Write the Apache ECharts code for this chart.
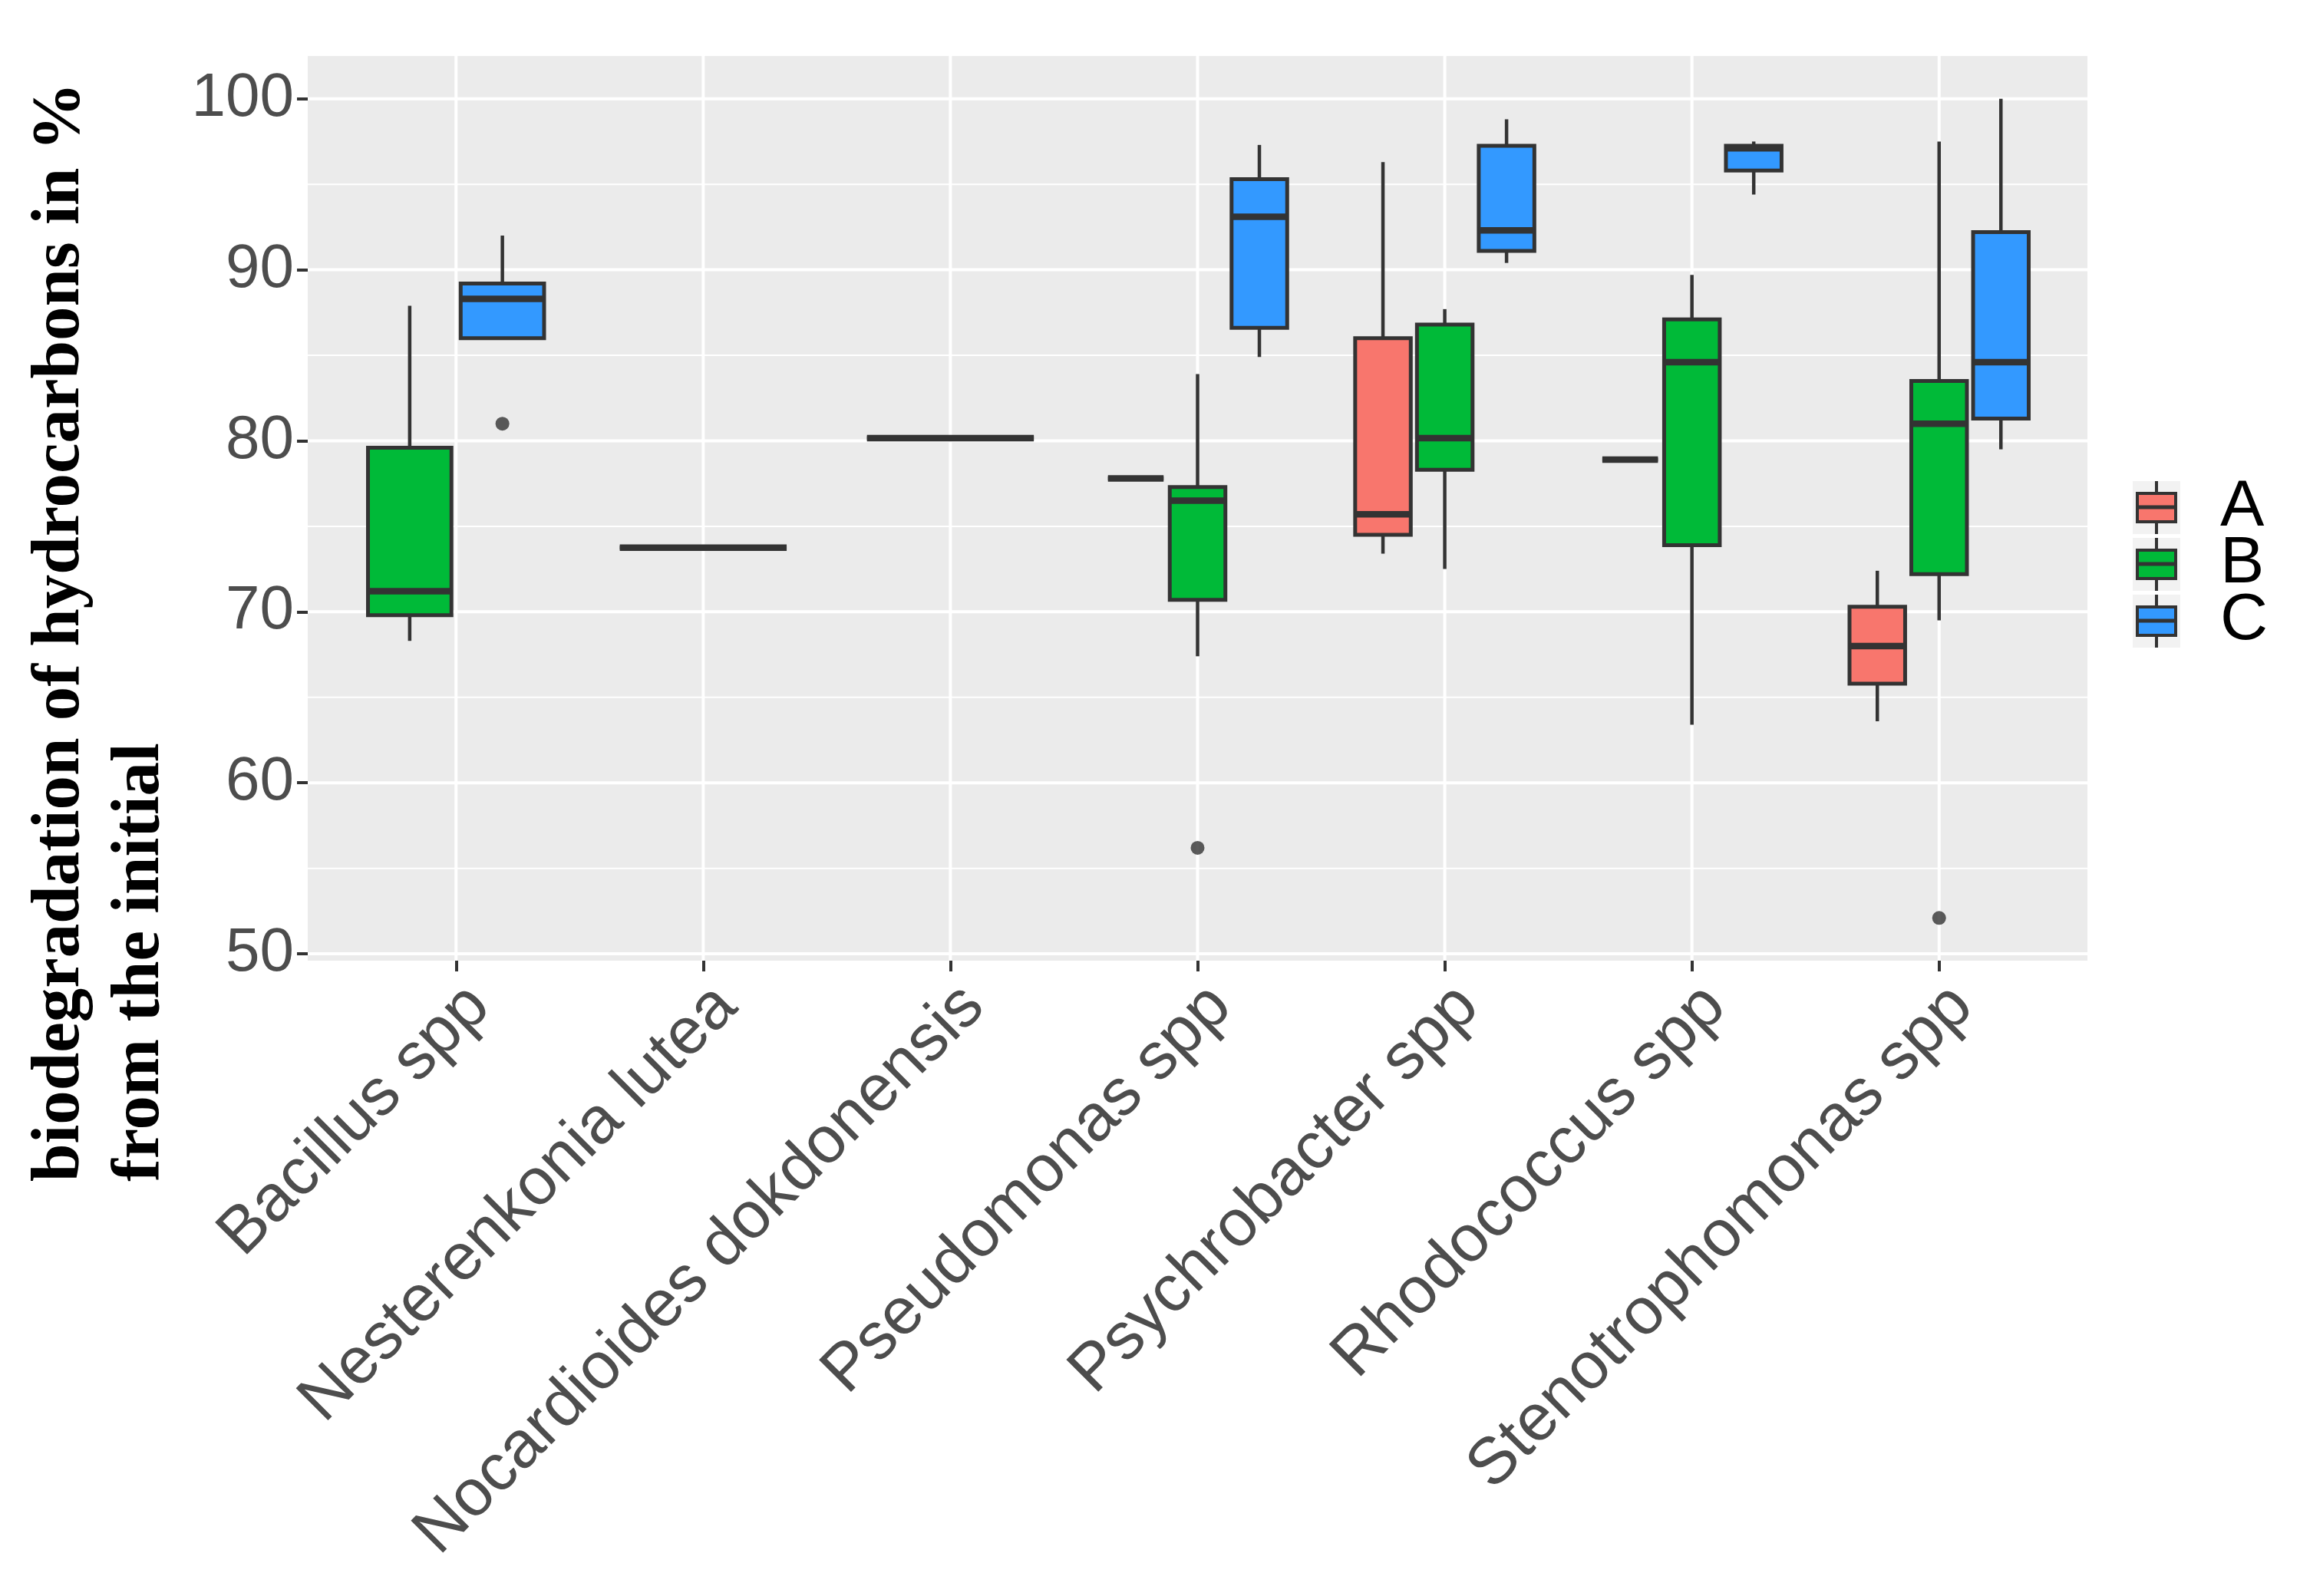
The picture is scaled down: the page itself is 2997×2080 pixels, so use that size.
<!DOCTYPE html>
<html><head><meta charset="utf-8">
<script src="https://cdn.jsdelivr.net/npm/echarts@6/dist/echarts.min.js"></script>
<style>html,body{margin:0;padding:0;background:#fff}#c{width:2997px;height:2080px}</style>
</head><body><div id="c"></div>
<script>
// ---------------- data ----------------
const categories = ['Bacillus spp', 'Nesterenkonia lutea', 'Nocardioides dokdonensis', 'Pseudomonas spp', 'Psychrobacter spp', 'Rhodococcus spp', 'Stenotrophomonas spp'];
const groupNames = ['A', 'B', 'C'];
// per category: [lower whisker, Q1, median, Q3, upper whisker]; null = group absent
const statsA = [null, [73.75, 73.75, 73.75, 73.75, 73.75], [80.15, 80.15, 80.15, 80.15, 80.15], [77.8, 77.8, 77.8, 77.8, 77.8], [73.4, 74.5, 75.7, 86.0, 96.3], [78.9, 78.9, 78.9, 78.9, 78.9], [63.6, 65.8, 68.0, 70.3, 72.4]];
const statsB = [[68.3, 69.8, 71.2, 79.6, 87.9], null, null, [67.4, 70.7, 76.5, 77.3, 83.9], [72.5, 78.3, 80.15, 86.8, 87.7], [63.4, 73.9, 84.6, 87.1, 89.7], [69.5, 72.2, 81.0, 83.5, 97.5]];
const statsC = [[86.0, 86.0, 88.3, 89.2, 92.0], null, null, [84.9, 86.6, 93.1, 95.3, 97.3], [90.4, 91.1, 92.3, 97.25, 98.8], [94.4, 95.8, 97.1, 97.25, 97.5], [79.5, 81.3, 84.6, 92.2, 100.0]];
// outliers: [category index, value]
const outliersA = [];
const outliersB = [[3, 56.2], [6, 52.1]];
const outliersC = [[0, 81.0]];
const yTicks = [50, 60, 70, 80, 90, 100];
const yMinorTicks = [55, 65, 75, 85, 95];
const yTitle = 'biodegradation of hydrocarbons in %\nfrom the initial';

// ---------------- styling / layout ----------------
const groupColors = ['#F8766D', '#00BA38', '#3399FF'];
const allStats = [statsA, statsB, statsC];
const allOutliers = [outliersA, outliersB, outliersC];
const xPositions = categories.map((c, i) => i + 1);
const dodgeWidth = 0.75, dodgePad = 0.1;
function dodge(ci, g) {
  const present = [0, 1, 2].filter(k => allStats[k][ci]);
  const n = present.length, k = present.indexOf(g);
  const slot = dodgeWidth / n;
  return { center: ci + 1 - dodgeWidth / 2 + slot * (k + 0.5), width: slot * (1 - dodgePad) };
}
const INK = '#333333';

function renderBox(params, api) {
  const x = api.value(0), w = api.value(6);
  const low = api.coord([x, api.value(1)]);
  const q1 = api.coord([x, api.value(2)]);
  const med = api.coord([x, api.value(3)]);
  const q3 = api.coord([x, api.value(4)]);
  const high = api.coord([x, api.value(5)]);
  const half = api.size([w, 0])[0] / 2;
  const color = api.visual('color');
  return { type: 'group', children: [
    { type: 'line', shape: { x1: low[0], y1: low[1], x2: q1[0], y2: q1[1] }, style: { stroke: INK, lineWidth: 4.5 } },
    { type: 'line', shape: { x1: q3[0], y1: q3[1], x2: high[0], y2: high[1] }, style: { stroke: INK, lineWidth: 4.5 } },
    { type: 'rect', shape: { x: q3[0] - half, y: q3[1], width: 2 * half, height: q1[1] - q3[1] }, style: { fill: color, stroke: INK, lineWidth: 5 } },
    { type: 'line', shape: { x1: med[0] - half, y1: med[1], x2: med[0] + half, y2: med[1] }, style: { stroke: INK, lineWidth: 8.5 } }
  ] };
}

function renderGridLine(params, api) {
  const cs = params.coordSys;
  const p = api.coord([api.value(0), api.value(1)]);
  const lw = api.value(3) ? 4 : 2;
  if (api.value(2) === 0) {
    return { type: 'line', shape: { x1: cs.x, y1: p[1], x2: cs.x + cs.width, y2: p[1] }, style: { stroke: '#FFFFFF', lineWidth: lw } };
  }
  return { type: 'line', shape: { x1: p[0], y1: cs.y, x2: p[0], y2: cs.y + cs.height }, style: { stroke: '#FFFFFF', lineWidth: lw } };
}

const gridData = []
  .concat(yMinorTicks.map(v => [1, v, 0, 0]))
  .concat(yTicks.map(v => [1, v, 0, 1]))
  .concat(xPositions.map(p => [p, 75, 1, 1]));

const series = [{
  type: 'custom', name: 'grid', silent: true, z: 1,
  renderItem: renderGridLine, encode: { x: 0, y: 1 }, data: gridData
}];
groupNames.forEach((g, gi) => {
  const data = [];
  allStats[gi].forEach((s, ci) => { if (s) { const d = dodge(ci, gi); data.push([d.center].concat(s).concat([d.width])); } });
  series.push({ type: 'custom', name: g, z: 3, color: groupColors[gi], renderItem: renderBox, encode: { x: 0, y: [1, 2, 3, 4, 5] }, data: data });
  if (allOutliers[gi].length) {
    series.push({ type: 'scatter', name: g + ' outliers', z: 4, symbol: 'circle', symbolSize: 18,
      itemStyle: { color: INK }, data: allOutliers[gi].map(o => [dodge(o[0], gi).center, o[1]]) });
  }
});

// y title and legend drawn as graphics
const graphics = [{
  type: 'text', x: 27, y: 1540, rotation: Math.PI / 2,
  style: { text: yTitle, fontFamily: 'Liberation Serif', fontWeight: 'bold', fontSize: 89, lineHeight: 104, fill: '#000', textAlign: 'left', textVerticalAlign: 'top' }
}];
groupNames.forEach((g, k) => {
  const top = 627 + k * 74, left = 2779, cx = left + 31;
  graphics.push({ type: 'rect', shape: { x: left, y: top, width: 62, height: 69 }, style: { fill: '#F2F2F2' } });
  graphics.push({ type: 'line', shape: { x1: cx, y1: top, x2: cx, y2: top + 69 }, style: { stroke: INK, lineWidth: 4 } });
  graphics.push({ type: 'rect', shape: { x: left + 6, y: top + 16, width: 50, height: 37 }, style: { fill: groupColors[k], stroke: INK, lineWidth: 4 } });
  graphics.push({ type: 'line', shape: { x1: left + 6, y1: top + 34, x2: left + 56, y2: top + 34 }, style: { stroke: INK, lineWidth: 5 } });
  graphics.push({ type: 'text', x: 2893, y: top + 34, style: { text: g, fontFamily: 'Liberation Sans', fontSize: 86, fill: '#000', textAlign: 'left', textVerticalAlign: 'middle' } });
});

const chart = echarts.init(document.getElementById('c'));
chart.setOption({
  animation: false,
  backgroundColor: '#FFFFFF',
  grid: { left: 401, right: 277, top: 73, bottom: 828, show: true, backgroundColor: '#EBEBEB', borderWidth: 0 },
  xAxis: {
    type: 'value', min: 0.4, max: 7.6,
    axisLine: { show: false }, splitLine: { show: false },
    axisTick: { show: true, customValues: xPositions, length: 14, lineStyle: { color: INK, width: 4 } },
    axisLabel: { customValues: xPositions, formatter: v => categories[Math.round(v) - 1], rotate: 45, align: 'right', verticalAlign: 'top', fontSize: 86, fontFamily: 'Liberation Sans', color: '#4D4D4D', margin: 16 }
  },
  yAxis: {
    type: 'value', min: 49.6, max: 102.5,
    axisLine: { show: false }, splitLine: { show: false },
    axisTick: { show: true, customValues: yTicks, length: 14, lineStyle: { color: INK, width: 4 } },
    axisLabel: { customValues: yTicks, fontSize: 80, fontFamily: 'Liberation Sans', color: '#4D4D4D', margin: 18 }
  },
  graphic: graphics,
  series: series
});
</script></body></html>
